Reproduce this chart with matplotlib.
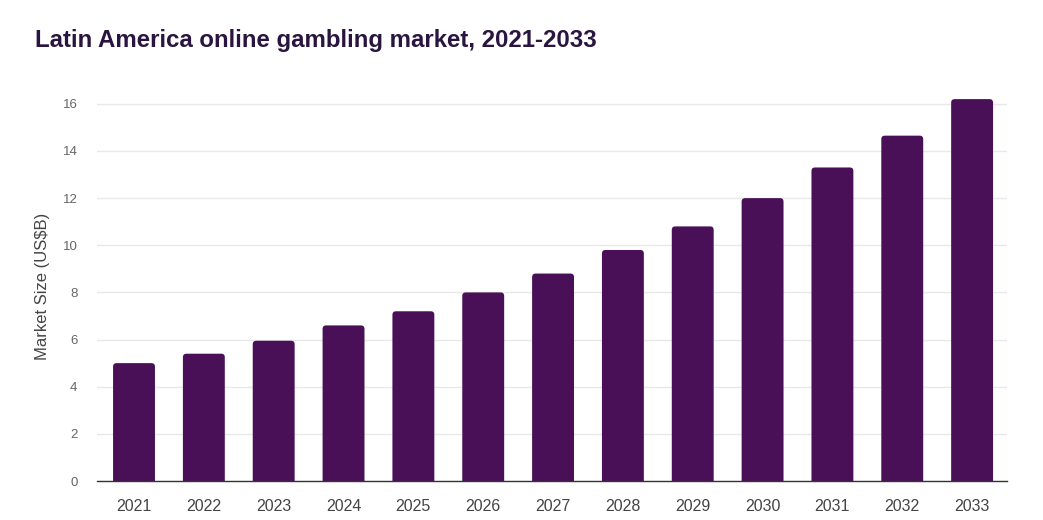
import matplotlib
matplotlib.use("Agg")
import matplotlib.pyplot as plt
from matplotlib.patches import FancyBboxPatch

years = ["2021", "2022", "2023", "2024", "2025", "2026", "2027",
         "2028", "2029", "2030", "2031", "2032", "2033"]
market_size = [5.0, 5.4, 5.95, 6.6, 7.2, 8.0, 8.8, 9.8, 10.8, 12.0, 13.3, 14.65, 16.2]
y_ticks = [0, 2, 4, 6, 8, 10, 12, 14, 16]

plt.rcParams['font.family'] = ['Liberation Sans', 'DejaVu Sans']

fig = plt.figure(figsize=(10.43, 5.2), dpi=100)
ax = fig.add_axes([0.093, 0.075, 0.8725, 0.748])

x = list(range(len(years)))
bars = ax.bar(x, market_size, width=0.6, color='#4a1057', zorder=3)

ax.set_xlim(-0.53, 12.5)
ax.set_ylim(0, 16.5)

# rounded top corners: replace each bar by a rounded box of the same geometry
x_per_px = (12.5 + 0.53) / (0.8725 * 1043)
y_per_px = 16.5 / (0.748 * 520)
r_px = 3.5
for rect in bars:
    rx, rw, rh = rect.get_x(), rect.get_width(), rect.get_height()
    ext = 1.0
    patch = FancyBboxPatch((rx, -ext), rw, rh + ext,
                           boxstyle=f"round,pad=0,rounding_size={r_px * x_per_px}",
                           mutation_aspect=y_per_px / x_per_px,
                           facecolor='#4a1057', edgecolor='none', zorder=3)
    ax.add_patch(patch)
    rect.set_visible(False)

ax.set_yticks(y_ticks)
ax.set_yticklabels([str(t) for t in y_ticks])
ax.set_xticks(x)
ax.set_xticklabels(years)

ax.grid(axis='y', color='#e8e8e8', linewidth=1, zorder=0)
for s in ['top', 'right', 'left']:
    ax.spines[s].set_visible(False)
ax.spines['bottom'].set_color('#333333')
ax.spines['bottom'].set_linewidth(1)
ax.spines['bottom'].set_zorder(4)

ax.tick_params(axis='y', length=0, pad=14, labelsize=9.5, labelcolor='#666666')
ax.tick_params(axis='x', length=0, pad=13, labelsize=11.5, labelcolor='#444444')

ax.set_ylabel("Market Size (US$B)", fontsize=12, color='#444444', labelpad=24)
ax.yaxis.set_label_coords(-0.052, 0.5)

fig.text(35 / 1043, 1 - 40 / 520, "Latin America online gambling market, 2021-2033",
         fontsize=17.3, fontweight='bold', color='#2a1540', ha='left', va='center')

fig.savefig("out.png", dpi=100)
